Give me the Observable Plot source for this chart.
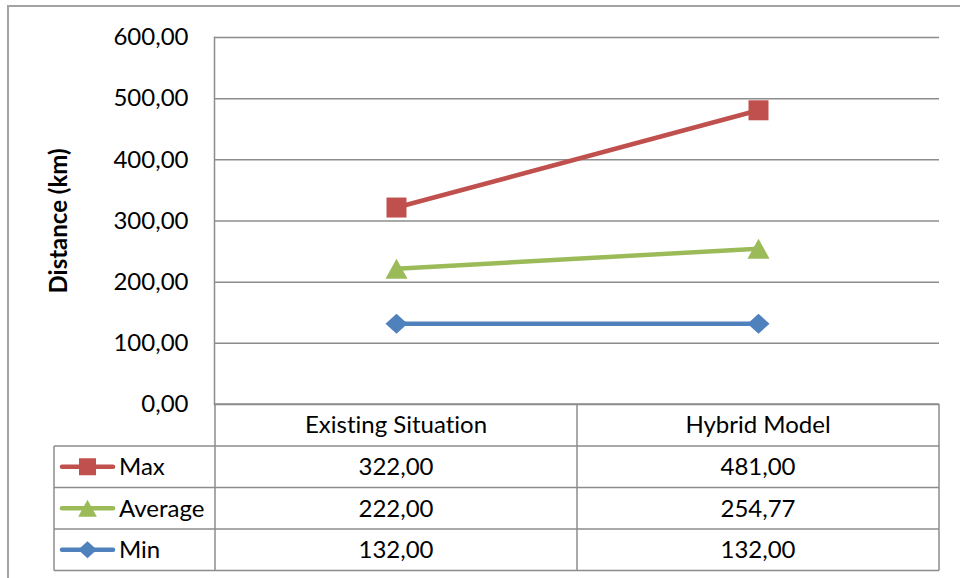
<!DOCTYPE html>
<html>
<head>
<meta charset="utf-8">
<script src="https://cdn.jsdelivr.net/npm/d3@7"></script>
<script src="https://cdn.jsdelivr.net/npm/@observablehq/plot@0.6"></script>
<style>
  html, body { margin: 0; padding: 0; background: #fff; }
  #chart { position: relative; width: 960px; height: 578px; overflow: hidden; }
  #frame { position: absolute; left: 7px; top: 5px; right: -10px; bottom: -10px;
           border-top: 2px solid #a3a3a3; border-left: 2px solid #a3a3a3; }
  #chart svg { position: absolute; left: 0; top: 0; font-variant-ligatures: none; }
</style>
</head>
<body>
<div id="chart"><div id="frame"></div></div>
<script>
// Categories, series and values
const categories = ["Existing Situation", "Hybrid Model"];
const seriesNames = ["Max", "Average", "Min"];
const maxValues = [322.00, 481.00];
const averageValues = [222.00, 254.77];
const minValues = [132.00, 132.00];
const yTicks = [0, 100, 200, 300, 400, 500, 600];
const yLabel = "Distance (km)";
const seriesColors = ["#C0504D", "#9BBB59", "#4F81BD"];

const seriesValues = [maxValues, averageValues, minValues];
const rows = seriesNames.flatMap((s, i) =>
  categories.map((c, j) => ({series: s, category: c, value: seriesValues[i][j]})));

// Marker shapes, sized from the symbol area (r = sqrt(size / PI))
const square = {draw(ctx, size) {
  const r = Math.sqrt(size / Math.PI);
  ctx.moveTo(-r, -r); ctx.lineTo(r, -r); ctx.lineTo(r, r); ctx.lineTo(-r, r); ctx.closePath();
}};
const triangle = {draw(ctx, size) {
  const r = Math.sqrt(size / Math.PI);
  ctx.moveTo(0, -r); ctx.lineTo(1.1 * r, r); ctx.lineTo(-1.1 * r, r); ctx.closePath();
}};
const diamond = {draw(ctx, size) {
  const r = Math.sqrt(size / Math.PI);
  ctx.moveTo(0, -r); ctx.lineTo(1.1 * r, 0); ctx.lineTo(0, r); ctx.lineTo(-1.1 * r, 0); ctx.closePath();
}};
const symbols = [square, triangle, diamond];

const fmt = d => d.toFixed(2).replace(".", ",");
const FONT = "Lato, sans-serif";
const FS = 24;
const GRID = "#8c8c8c";

const chart = Plot.plot({
  width: 960,
  height: 578,
  marginLeft: 214,
  marginRight: 21,
  marginTop: 37,
  marginBottom: 174,
  style: {fontFamily: FONT, fontSize: FS + "px", color: "#000", background: "transparent", overflow: "visible"},
  x: {type: "point", domain: categories, padding: 0.5, align: 0.5, axis: null},
  y: {domain: [0, 600], axis: null},
  color: {domain: seriesNames, range: seriesColors},
  symbol: {domain: seriesNames, range: symbols},
  marks: [
    Plot.gridY(yTicks, {stroke: GRID, strokeOpacity: 1, strokeWidth: 1.5}),
    Plot.frame({anchor: "left", stroke: GRID, strokeWidth: 1.5}),
    Plot.axisY(yTicks, {tickSize: 0, tickPadding: 26, tickFormat: fmt, label: null, fontSize: FS, fill: "#000"}),
    Plot.text([yLabel], {frameAnchor: "left", dx: -155, rotate: -90, textAnchor: "middle",
                         fontWeight: "bold", fontSize: FS, fill: "#000"}),
    Plot.line(rows, {x: "category", y: "value", z: "series", stroke: "series", strokeWidth: 4.5, strokeLinecap: "round"}),
    Plot.dot(rows, {x: "category", y: "value", symbol: "series", fill: "series", r: 10, stroke: "none"})
  ]
});
document.getElementById("chart").appendChild(chart);

// Data table under the plot, columns aligned to the x scale
const xs = chart.scale("x");
const ys = chart.scale("y");
const centers = categories.map(c => xs.apply(c));
const half = (centers[1] - centers[0]) / 2;
const colEdges = [centers[0] - half, centers[0] + half, centers[1] + half];
const tableLeft = 54;
const y0 = ys.apply(0);
const rowEdges = [y0, y0 + 42, y0 + 83.5, y0 + 125, y0 + 166.5];

const svg = d3.select(chart);
const g = svg.append("g").attr("font-family", FONT).attr("font-size", FS).attr("fill", "#000");

const hLines = [
  [colEdges[0], colEdges[2], rowEdges[0]],
  ...rowEdges.slice(1).map(y => [tableLeft, colEdges[2], y])
];
g.selectAll(".h").data(hLines).join("line")
  .attr("x1", d => d[0]).attr("x2", d => d[1]).attr("y1", d => d[2]).attr("y2", d => d[2])
  .attr("stroke", GRID).attr("stroke-width", 1.5);
const vLines = [
  [tableLeft, rowEdges[1], rowEdges[4]],
  ...colEdges.map(x => [x, rowEdges[0], rowEdges[4]])
];
g.selectAll(".v").data(vLines).join("line")
  .attr("x1", d => d[0]).attr("x2", d => d[0]).attr("y1", d => d[1]).attr("y2", d => d[2])
  .attr("stroke", GRID).attr("stroke-width", 1.5);

const rowMid = i => (rowEdges[i] + rowEdges[i + 1]) / 2;

// Header
g.selectAll(".hdr").data(categories).join("text")
  .attr("x", (d, j) => centers[j]).attr("y", rowMid(0)).attr("dy", "0.35em")
  .attr("text-anchor", "middle").text(d => d);

// Value cells and legend keys
seriesNames.forEach((s, i) => {
  const cy = rowMid(i + 1);
  categories.forEach((c, j) => {
    g.append("text").attr("x", centers[j]).attr("y", cy).attr("dy", "0.35em")
      .attr("text-anchor", "middle").text(fmt(seriesValues[i][j]));
  });
  g.append("line").attr("x1", 62).attr("x2", 113).attr("y1", cy).attr("y2", cy)
    .attr("stroke", seriesColors[i]).attr("stroke-width", 4.5).attr("stroke-linecap", "round");
  g.append("path")
    .attr("transform", `translate(87.5,${cy})`)
    .attr("d", d3.symbol().type(symbols[i]).size(Math.PI * 8.5 * 8.5)())
    .attr("fill", seriesColors[i]);
  g.append("text").attr("x", 119).attr("y", cy).attr("dy", "0.35em")
    .attr("text-anchor", "start").text(s);
});
</script>
</body>
</html>
